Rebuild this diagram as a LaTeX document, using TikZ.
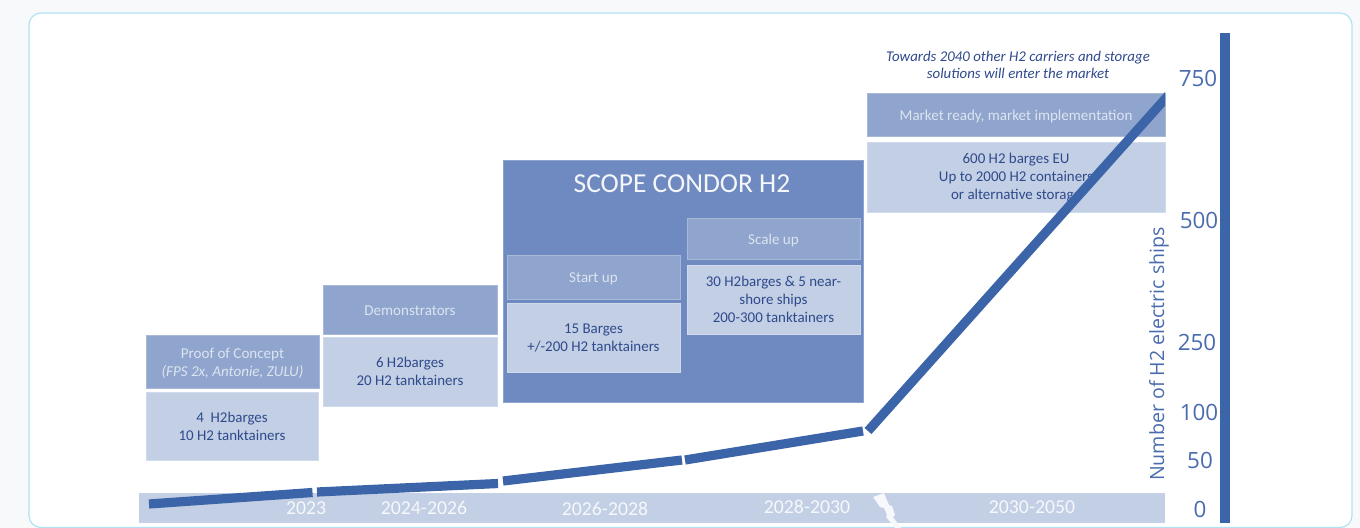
\documentclass[tikz,border=0pt]{standalone}
\usepackage{fontspec}
\usetikzlibrary{calc}
\setmainfont{Carlito}
\newfontfamily\axisfont{Open Sans}
\definecolor{pagebg}{HTML}{F7F9FA}
\definecolor{cardline}{HTML}{B0E2F5}
\definecolor{scopeblue}{HTML}{6E8AC0}
\definecolor{headblue}{HTML}{8FA5CD}
\definecolor{lightblue}{HTML}{C2CFE4}
\definecolor{darktext}{HTML}{2F4A8C}
\definecolor{trendblue}{HTML}{3C64A8}
\definecolor{axistext}{HTML}{4A6CAE}
\definecolor{paletext}{HTML}{DCE4F0}
\newcommand{\lowtext}[2]{\raisebox{-#1}[\height][\depth]{\begin{tabular}{@{}c@{}}#2\end{tabular}}}
\tikzset{
  x=0.75pt,y=-0.75pt,
  boxat/.style args={#1/#2/#3/#4}{minimum width=(#3-#1)*0.75pt,minimum height=(#4-#2)*0.75pt,anchor=north west,inner sep=0pt,outer sep=0pt,align=center},
  headbox/.style={fill=headblue,draw=white!22!headblue,line width=0.4pt,text=paletext,font=\fontsize{11.3pt}{13.5pt}\selectfont},
  infobox/.style={fill=lightblue,draw=white!22!lightblue,line width=0.4pt,text=darktext,font=\fontsize{11.2pt}{13.5pt}\selectfont},
  trend/.style={draw=trendblue,line width=6.9pt,line cap=butt},
  yeartext/.style={text=white!85!lightblue,font=\fontsize{14.8pt}{16pt}\selectfont,inner sep=0pt},
  ticktext/.style={text=axistext,font=\axisfont\fontsize{16.8pt}{18pt}\selectfont,inner sep=0pt},
}
\begin{document}
\begin{tikzpicture}
\useasboundingbox (0,0) rectangle (1360,528);
\fill[pagebg] (0,0) rectangle (1360,528);
\begin{scope}
\clip (0,0) rectangle (1360,528);
\draw[cardline,fill=white,line width=0.9pt,rounded corners=9pt] (29,13) rectangle (1352,527.5);
\end{scope}

% time bar
\node[boxat=139/493/1165/523,fill=lightblue] (timebar) at (139,493) {};
\fill[white!85!lightblue] (873,497) -- (884,493) -- (889,505) -- (892,506) -- (895,515) -- (893,517) -- (901,528) -- (895,528) -- (886,517) -- (887,515) -- (884,508) -- (880,507) -- cycle;
\node[yeartext] (y1) at (306,508) {2023};
\node[yeartext] (y2) at (424,508) {2024-2026};
\node[yeartext] (y3) at (605,509) {2026-2028};
\node[yeartext] (y4) at (807,507) {2028-2030};
\node[yeartext] (y5) at (1032,507) {2030-2050};

% boxes
\node[boxat=146/335/319/388,headbox] (poc) at (146,335) {\lowtext{1.5pt}{Proof of Concept\\\textit{(FPS 2x, Antonie, ZULU)}}};
\node[boxat=146/392/318/460,infobox] (pocinfo) at (146,392) {4\ \ H2barges\\10 H2 tanktainers};
\node[boxat=323/285/497/334,headbox] (demo) at (323,285) {\lowtext{1.5pt}{Demonstrators}};
\node[boxat=323/337/497/406,infobox] (demoinfo) at (323,337) {6 H2barges\\20 H2 tanktainers};
\node[boxat=503/160/863/402,fill=scopeblue,draw=white!22!scopeblue,line width=0.4pt] (scope) at (503,160) {};
\node[text=white!92!scopeblue,font=\fontsize{20.6pt}{23pt}\selectfont,inner sep=0pt] (scopetitle) at (682,184) {SCOPE CONDOR H2};
\node[boxat=507/255/680/299,headbox] (start) at (507,255) {\lowtext{1.5pt}{Start up}};
\node[boxat=507/303/680/372,infobox] (startinfo) at (507,303) {\lowtext{0.7pt}{15 Barges\\+/-200 H2 tanktainers}};
\node[boxat=687/218/860/259,headbox] (scale) at (687,218) {\lowtext{1.5pt}{Scale up}};
\node[boxat=687/265/860/334,infobox] (scaleinfo) at (687,265) {30 H2barges \& 5 near-\\shore ships\\200-300 tanktainers};
\node[boxat=867/93/1165/136,headbox] (market) at (867,93) {\lowtext{1.5pt}{Market ready, market implementation}};
\node[boxat=867/142/1165/212,infobox] (marketinfo) at (867,142) {\lowtext{0.7pt}{600 H2 barges EU\\Up to 2000 H2 containers\\or alternative storage}};
\node[text=darktext,align=center,inner sep=0pt,font=\fontsize{11.15pt}{12.9pt}\selectfont\itshape] (towards) at (1018,65) {Towards 2040 other H2 carriers and storage\\solutions will enter the market};

% trend line
\coordinate (t0) at (149,504);
\coordinate (t1) at (312.5,492.5);
\coordinate (t2) at (317,492);
\coordinate (t3) at (498,483.5);
\coordinate (t4) at (503,481);
\coordinate (t5) at (682,460);
\coordinate (t6) at (685,460);
\coordinate (t7) at (863,431);
\coordinate (t8) at (868,431);
\coordinate (t9) at (1165,99);
\draw[trend] (t0) -- (t1);
\draw[trend] (t2) -- (t3);
\draw[trend] (t4) -- (t5);
\draw[trend] (t6) -- (t7);
\begin{scope}
\clip (860,85) rectangle (1165,440);
\draw[trend] (t8) -- ($(t8)!1.1!(t9)$);
\end{scope}

% axis
\coordinate (axbottom) at (1225,523);
\coordinate (axtop) at (1225,33);
\draw[draw=trendblue,line width=7.3pt] (axbottom) -- (axtop);
\node[ticktext] (n750) at (1198,78) {750};
\node[ticktext] (n500) at (1199,220) {500};
\node[ticktext] (n250) at (1197,342) {250};
\node[ticktext] (n100) at (1199,412) {100};
\node[ticktext] (n50) at (1200,460) {50};
\node[ticktext] (n0) at (1200,509) {0};
\node[rotate=90,text=axistext,inner sep=0pt,font=\axisfont\fontsize{14.7pt}{16pt}\selectfont] (axlabel) at (1159,354) {Number of H2 electric ships};
\end{tikzpicture}
\end{document}
